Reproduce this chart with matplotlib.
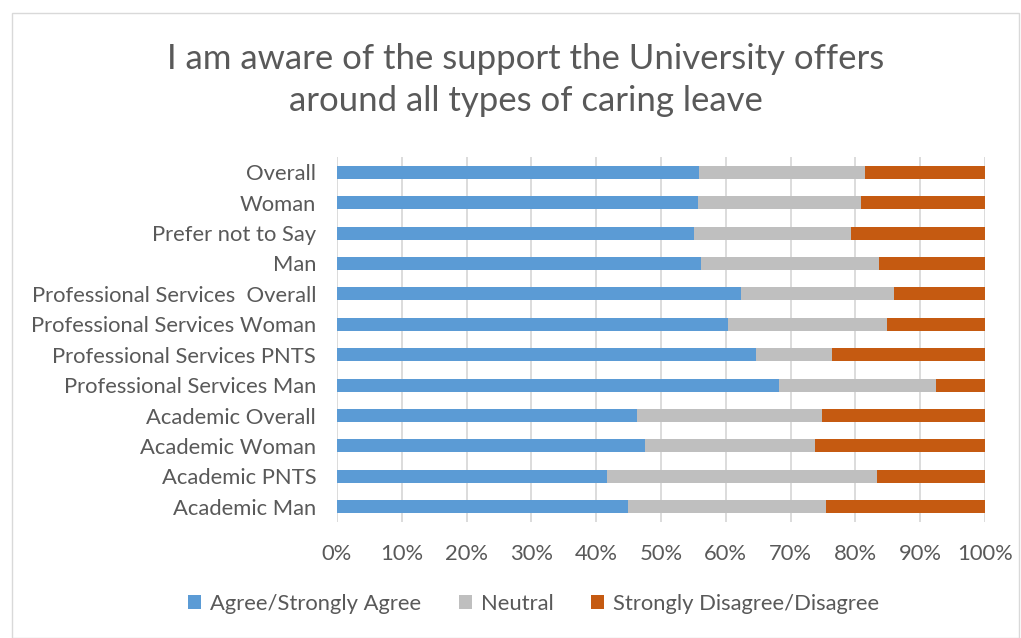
import matplotlib
matplotlib.use("Agg")
import matplotlib.pyplot as plt
from matplotlib.patches import Rectangle
from matplotlib.ticker import FuncFormatter

categories = [
    "Overall", "Woman", "Prefer not to Say", "Man",
    "Professional Services  Overall", "Professional Services Woman",
    "Professional Services PNTS", "Professional Services Man",
    "Academic Overall", "Academic Woman", "Academic PNTS", "Academic Man",
]
agree = [55.9, 55.7, 55.1, 56.2, 62.3, 60.3, 64.7, 68.2, 46.3, 47.5, 41.7, 44.9]
neutral = [25.6, 25.2, 24.2, 27.5, 23.7, 24.5, 11.7, 24.2, 28.5, 26.3, 41.6, 30.5]
disagree = [round(100 - a - n, 1) for a, n in zip(agree, neutral)]

series_names = ["Agree/Strongly Agree", "Neutral", "Strongly Disagree/Disagree"]
colors = ["#5B9BD5", "#BFBFBF", "#C55A11"]
text_color = "#595959"

plt.rcParams["font.family"] = ["Lato", "DejaVu Sans"]

fig = plt.figure(figsize=(10.21, 6.38), dpi=100)
fig.patches.append(Rectangle((0.012, 0.0), 0.986, 0.98, transform=fig.transFigure,
                             facecolor="none", edgecolor="#D9D9D9", linewidth=1, zorder=-1))
ax = fig.add_axes([337 / 1021, 1 - 522 / 638, (985 - 337) / 1021, (522 - 157) / 638])

y = list(range(len(categories)))
left = [0.0] * len(categories)
for vals, name, c in zip([agree, neutral, disagree], series_names, colors):
    ax.barh(y, vals, left=left, height=0.43, color=c, label=name, zorder=3)
    left = [l + v for l, v in zip(left, vals)]

ax.set_xlim(0, 100)
ax.set_ylim(len(categories) - 0.5, -0.5)
ax.set_xticks(range(0, 101, 10))
ax.xaxis.set_major_formatter(FuncFormatter(lambda v, p: f"{int(v)}%"))
ax.set_yticks(y)
ax.set_yticklabels(categories)
ax.grid(axis="x", color="#D9D9D9", linewidth=1.3, zorder=0)
for s in ax.spines.values():
    s.set_visible(False)
ax.tick_params(axis="both", length=0, labelsize=15.8, labelcolor=text_color)
ax.tick_params(axis="x", pad=16)
ax.tick_params(axis="y", pad=15)

fig.text(0.515, 1 - 80 / 638, "I am aware of the support the University offers\naround all types of caring leave",
         ha="center", va="center", fontsize=25, color=text_color, linespacing=1.4)

handles, labels = ax.get_legend_handles_labels()
fig.legend(handles, labels, loc="center", bbox_to_anchor=(0.5225, 1 - 604 / 638), ncol=3,
           frameon=False, fontsize=15.8, labelcolor=text_color, handlelength=0.6,
           handleheight=0.6, handletextpad=0.4, columnspacing=1.7)

fig.savefig("out.png", dpi=100, facecolor="white")
